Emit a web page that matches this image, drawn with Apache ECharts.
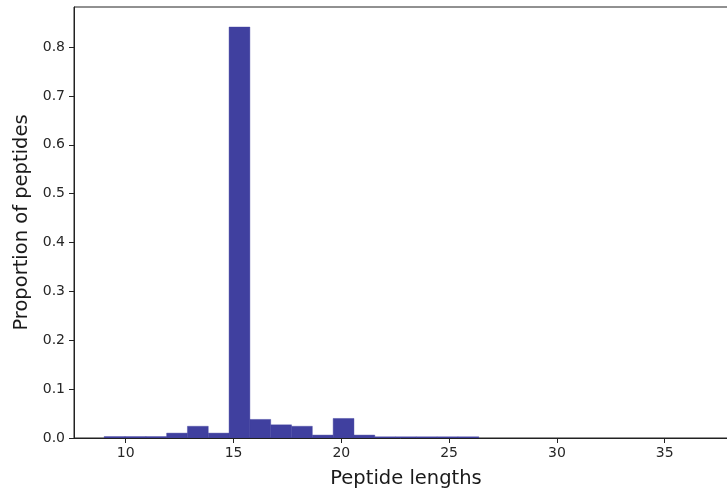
<!DOCTYPE html>
<html>
<head>
<meta charset="utf-8">
<script src="https://cdn.jsdelivr.net/npm/echarts@6/dist/echarts.min.js"></script>
<style>html,body{margin:0;padding:0;background:#fff;}#c{width:727px;height:491px;}</style>
</head>
<body>
<div id="c"></div>
<script>
// Histogram bin edges (lower..upper), 29 bins over 9..37
const binEdges = [9, 9.966, 10.931, 11.897, 12.862, 13.828, 14.793, 15.759, 16.724, 17.690,
  18.655, 19.621, 20.586, 21.552, 22.517, 23.483, 24.448, 25.414, 26.379, 27.345,
  28.310, 29.276, 30.241, 31.207, 32.172, 33.138, 34.103, 35.069, 36.034, 37.0];
// Proportion of peptides in each bin
const proportions = [0.003, 0.003, 0.003, 0.010, 0.024, 0.010, 0.841, 0.038, 0.027, 0.024,
  0.006, 0.040, 0.006, 0.0025, 0.0025, 0.0025, 0.0025, 0.0025, 0, 0,
  0, 0, 0, 0, 0, 0, 0, 0, 0];
const xTicks = [10, 15, 20, 25, 30, 35];
const yTicks = [0, 0.1, 0.2, 0.3, 0.4, 0.5, 0.6, 0.7, 0.8];
const xTitle = 'Peptide lengths';
const yTitle = 'Proportion of peptides';

const data = proportions.map((v, i) => [binEdges[i], binEdges[i + 1], v]);
const font = 'DejaVu Sans';
const chart = echarts.init(document.getElementById('c'), null, {renderer: 'canvas'});
chart.setOption({
  animation: false,
  grid: {left: 74, top: 7, width: 664, height: 431, show: true, borderColor: '#222', borderWidth: 1,
    containLabel: false, outerBoundsMode: 'none'},
  xAxis: {
    type: 'value', min: 7.6, max: 38.4,
    name: xTitle, nameLocation: 'middle', nameGap: 31,
    nameTextStyle: {fontFamily: font, fontSize: 19.5, color: '#1a1a1a'},
    axisLine: {show: true, onZero: false, lineStyle: {color: '#222', width: 1}},
    axisTick: {show: true, length: 5, customValues: xTicks, lineStyle: {color: '#222'}},
    axisLabel: {customValues: xTicks, margin: 8, fontFamily: font, fontSize: 14, color: '#262626'},
    splitLine: {show: false}
  },
  yAxis: {
    type: 'value', min: 0, max: 0.882,
    name: yTitle, nameLocation: 'middle', nameGap: 39,
    nameTextStyle: {fontFamily: font, fontSize: 19.5, color: '#1a1a1a'},
    axisLine: {show: true, lineStyle: {color: '#222', width: 1}},
    axisTick: {show: true, length: 5, customValues: yTicks, lineStyle: {color: '#222'}},
    axisLabel: {customValues: yTicks, margin: 9, fontFamily: font, fontSize: 14, color: '#262626',
      formatter: v => v.toFixed(1)},
    splitLine: {show: false}
  },
  series: [{
    type: 'custom',
    data: data,
    encode: {x: [0, 1], y: 2},
    clip: true,
    renderItem: function (params, api) {
      const x0 = api.value(0), x1 = api.value(1), y = api.value(2);
      if (!(y > 0)) return null;
      const p0 = api.coord([x0, y]);
      const p1 = api.coord([x1, 0]);
      return {
        type: 'rect',
        shape: {x: p0[0], y: p0[1], width: p1[0] - p0[0], height: p1[1] - p0[1]},
        style: {fill: '#40409f', stroke: '#40409f', lineWidth: 0.4}
      };
    }
  }]
});
</script>
</body>
</html>
